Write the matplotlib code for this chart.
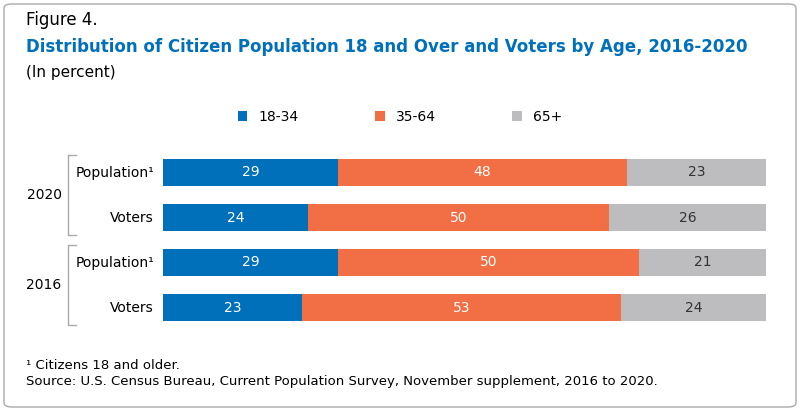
import matplotlib.pyplot as plt
from matplotlib.patches import FancyBboxPatch
import numpy as np

rows = ["Population¹", "Voters", "Population¹", "Voters"]
years = ["2020", "2016"]
age_groups = ["18-34", "35-64", "65+"]
share_18_34 = [29, 24, 29, 23]
share_35_64 = [48, 50, 50, 53]
share_65 = [23, 26, 21, 24]
colors = ["#0070BA", "#F26E45", "#BDBDC0"]

W, H = 800, 411
fig = plt.figure(figsize=(W / 100, H / 100), dpi=100)
fig.patches.append(FancyBboxPatch((4 / W, 4 / H), 792 / W, 403 / H,
                                  boxstyle="round,pad=0,rounding_size=0.01",
                                  transform=fig.transFigure, fill=False,
                                  ec="#AAAAAA", lw=1))

fig.text(26 / W, 1 - 20 / H, "Figure 4.", fontsize=12, va="center")
fig.text(26 / W, 1 - 47 / H,
         "Distribution of Citizen Population 18 and Over and Voters by Age, 2016-2020",
         fontsize=12, fontweight="bold", color="#0070BA", va="center")
fig.text(26 / W, 1 - 73 / H, "(In percent)", fontsize=11, va="center")

ax = fig.add_axes([163 / W, 1 - 330 / H, 603 / W, 180 / H])
ypos = np.array([0, 1, 2, 3])
left = np.zeros(4)
for vals, c, lab in zip([share_18_34, share_35_64, share_65], colors, age_groups):
    ax.barh(ypos, vals, left=left, color=c, height=0.62, label=lab)
    for y, v, l in zip(ypos, vals, left):
        ax.text(l + v / 2, y, str(v), ha="center", va="center", fontsize=10,
                color="white" if c != colors[2] else "#333333")
    left += vals
ax.set_xlim(0, 100)
ax.set_ylim(3.5, -0.5)
ax.axis("off")

for y, lab in zip(ypos, rows):
    ax.text(-1.5, y, lab, ha="right", va="center", fontsize=10)

for i, yr in enumerate(years):
    y0, y1 = 2 * i - 0.38, 2 * i + 1.38
    ax.plot([-14.5, -15.8, -15.8, -14.5], [y0, y0, y1, y1], color="#AAAAAA", lw=1,
            clip_on=False)
    ax.text(-16.8, 2 * i + 0.5, yr, ha="right", va="center", fontsize=10)

leg = fig.legend(loc="center", bbox_to_anchor=(0.5, 1 - 117 / H), ncol=3,
                 frameon=False, fontsize=10, handlelength=0.7, handleheight=0.7,
                 columnspacing=5.5)

fig.text(26 / W, 1 - 365 / H, "¹ Citizens 18 and older.", fontsize=9.5, va="center")
fig.text(26 / W, 1 - 381 / H,
         "Source: U.S. Census Bureau, Current Population Survey, November supplement, 2016 to 2020.",
         fontsize=9.5, va="center")

fig.savefig("out.png", dpi=100)
